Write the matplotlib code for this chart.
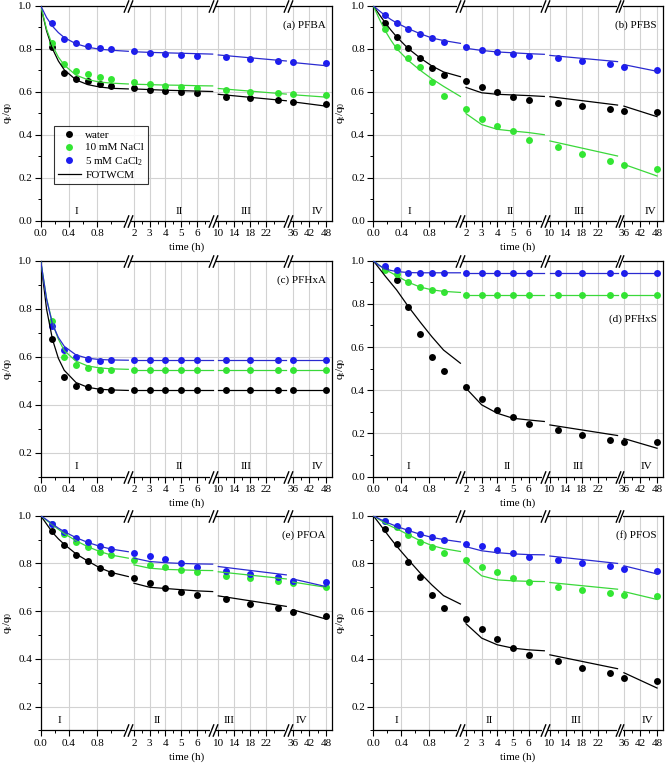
import numpy as np
import matplotlib
matplotlib.use("Agg")
import matplotlib.pyplot as plt
from matplotlib.ticker import FixedLocator
from matplotlib.transforms import ScaledTranslation

plt.rcParams['font.family'] = ['Liberation Serif', 'DejaVu Serif']
plt.rcParams['mathtext.fontset'] = 'custom'
plt.rcParams['mathtext.rm'] = 'Liberation Serif'
plt.rcParams['mathtext.it'] = 'Liberation Serif:italic'
plt.rcParams['font.size'] = 8

# sampling times of the measured points (h)
T_DATA = [1/6, 2/6, 3/6, 4/6, 5/6, 1, 2, 3, 4, 5, 6, 12, 18, 25, 36, 48]
# times of the model curve, one list per axis segment (I, II, III, IV)
T_FIT = [[0, 1/12, 1/6, 0.25, 1/3, 0.5, 2/3, 5/6, 1.0, 1.24],
         [2, 3, 4, 5, 6, 7],
         [10, 27],
         [36, 48]]

# (a) PFBA
A_WATER = [0.809, 0.688, 0.657, 0.650, 0.634, 0.626, 0.617, 0.609, 0.603, 0.597, 0.592, 0.577, 0.569, 0.561, 0.553, 0.541]
A_NACL = [0.825, 0.727, 0.696, 0.682, 0.667, 0.657, 0.643, 0.634, 0.625, 0.622, 0.619, 0.608, 0.600, 0.594, 0.589, 0.583]
A_CACL2 = [0.918, 0.845, 0.825, 0.812, 0.803, 0.798, 0.789, 0.780, 0.775, 0.771, 0.766, 0.760, 0.752, 0.744, 0.738, 0.732]
A_WATER_FIT = [1.0, 0.883, 0.800, 0.743, 0.702, 0.655, 0.633, 0.622, 0.616, 0.613,
               0.613, 0.610, 0.607, 0.605, 0.603, 0.601, 0.588, 0.558, 0.553, 0.533]
A_NACL_FIT = [1.0, 0.891, 0.815, 0.761, 0.724, 0.677, 0.656, 0.645, 0.640, 0.636,
              0.635, 0.633, 0.631, 0.630, 0.628, 0.627, 0.615, 0.589, 0.586, 0.575]
A_CACL2_FIT = [1.0, 0.945, 0.905, 0.875, 0.852, 0.823, 0.807, 0.798, 0.793, 0.788,
               0.786, 0.783, 0.781, 0.779, 0.777, 0.775, 0.771, 0.743, 0.736, 0.721]

# (b) PFBS
B_WATER = [0.921, 0.853, 0.802, 0.755, 0.712, 0.678, 0.651, 0.622, 0.598, 0.574, 0.561, 0.546, 0.533, 0.519, 0.510, 0.504]
B_NACL = [0.890, 0.808, 0.755, 0.713, 0.643, 0.580, 0.519, 0.473, 0.439, 0.416, 0.377, 0.343, 0.309, 0.276, 0.257, 0.240]
B_CACL2 = [0.957, 0.919, 0.893, 0.868, 0.850, 0.831, 0.808, 0.792, 0.783, 0.775, 0.766, 0.755, 0.743, 0.727, 0.716, 0.702]
B_WATER_FIT = [1.0, 0.960, 0.922, 0.887, 0.855, 0.800, 0.757, 0.720, 0.692, 0.670,
               0.620, 0.595, 0.588, 0.585, 0.582, 0.578, 0.577, 0.538, 0.533, 0.484]
B_NACL_FIT = [1.0, 0.940, 0.885, 0.840, 0.800, 0.745, 0.700, 0.660, 0.625, 0.578,
              0.498, 0.447, 0.425, 0.417, 0.410, 0.400, 0.371, 0.301, 0.262, 0.208]
B_CACL2_FIT = [1.0, 0.977, 0.955, 0.936, 0.920, 0.893, 0.870, 0.850, 0.838, 0.825,
               0.802, 0.792, 0.785, 0.781, 0.777, 0.774, 0.769, 0.740, 0.726, 0.695]

# (c) PFHxA
C_WATER = [0.672, 0.515, 0.478, 0.475, 0.459, 0.459, 0.459, 0.459, 0.459, 0.459, 0.459, 0.459, 0.459, 0.459, 0.459, 0.459]
C_NACL = [0.748, 0.600, 0.567, 0.553, 0.543, 0.546, 0.546, 0.546, 0.546, 0.546, 0.546, 0.546, 0.546, 0.546, 0.546, 0.546]
C_CACL2 = [0.729, 0.627, 0.600, 0.589, 0.583, 0.585, 0.585, 0.585, 0.585, 0.585, 0.585, 0.585, 0.585, 0.585, 0.585, 0.585]
C_WATER_FIT = [1.0, 0.798, 0.672, 0.593, 0.543, 0.492, 0.472, 0.464, 0.461, 0.459,
               0.459, 0.459, 0.459, 0.459, 0.459, 0.459, 0.459, 0.459, 0.459, 0.459]
C_NACL_FIT = [1.0, 0.843, 0.740, 0.673, 0.625, 0.581, 0.561, 0.553, 0.549, 0.547,
              0.546, 0.546, 0.546, 0.546, 0.546, 0.546, 0.546, 0.546, 0.546, 0.546]
C_CACL2_FIT = [1.0, 0.839, 0.735, 0.680, 0.643, 0.607, 0.593, 0.588, 0.586, 0.585,
               0.585, 0.585, 0.585, 0.585, 0.585, 0.585, 0.585, 0.585, 0.585, 0.585]

# (d) PFHxS
D_WATER = [0.960, 0.910, 0.787, 0.659, 0.556, 0.489, 0.417, 0.361, 0.310, 0.278, 0.242, 0.216, 0.191, 0.171, 0.160, 0.160]
D_NACL = [0.957, 0.937, 0.900, 0.877, 0.863, 0.853, 0.841, 0.841, 0.841, 0.841, 0.841, 0.841, 0.841, 0.841, 0.841, 0.841]
D_CACL2 = [0.977, 0.957, 0.941, 0.944, 0.944, 0.944, 0.944, 0.944, 0.944, 0.944, 0.944, 0.944, 0.944, 0.944, 0.944, 0.944]
D_WATER_FIT = [1.0, 0.965, 0.930, 0.897, 0.864, 0.787, 0.716, 0.648, 0.586, 0.525,
               0.409, 0.332, 0.293, 0.270, 0.262, 0.255, 0.239, 0.190, 0.176, 0.131]
D_NACL_FIT = [1.0, 0.980, 0.960, 0.945, 0.930, 0.900, 0.878, 0.865, 0.858, 0.853,
              0.841, 0.841, 0.841, 0.841, 0.841, 0.841, 0.841, 0.841, 0.841, 0.841]
D_CACL2_FIT = [1.0, 0.978, 0.962, 0.955, 0.950, 0.945, 0.944, 0.944, 0.944, 0.944,
               0.944, 0.944, 0.944, 0.944, 0.944, 0.944, 0.944, 0.944, 0.944, 0.944]

# (e) PFOA
E_WATER = [0.936, 0.876, 0.836, 0.810, 0.780, 0.759, 0.738, 0.720, 0.699, 0.682, 0.666, 0.649, 0.631, 0.614, 0.597, 0.580]
E_NACL = [0.965, 0.925, 0.890, 0.869, 0.849, 0.834, 0.813, 0.795, 0.784, 0.773, 0.763, 0.749, 0.737, 0.727, 0.717, 0.700]
E_CACL2 = [0.964, 0.933, 0.908, 0.888, 0.873, 0.859, 0.845, 0.831, 0.817, 0.801, 0.785, 0.770, 0.756, 0.742, 0.727, 0.721]
E_WATER_FIT = [1.0, 0.965, 0.930, 0.903, 0.880, 0.840, 0.810, 0.782, 0.762, 0.745,
               0.717, 0.700, 0.695, 0.690, 0.685, 0.682, 0.664, 0.620, 0.606, 0.567]
E_NACL_FIT = [1.0, 0.980, 0.962, 0.943, 0.925, 0.895, 0.870, 0.850, 0.835, 0.822,
              0.794, 0.780, 0.775, 0.773, 0.771, 0.770, 0.765, 0.735, 0.722, 0.700]
E_CACL2_FIT = [1.0, 0.983, 0.965, 0.948, 0.933, 0.908, 0.888, 0.872, 0.860, 0.849,
               0.822, 0.808, 0.803, 0.800, 0.798, 0.797, 0.787, 0.752, 0.735, 0.703]

# (f) PFOS
F_WATER = [0.944, 0.880, 0.805, 0.744, 0.666, 0.615, 0.568, 0.526, 0.484, 0.447, 0.416, 0.390, 0.363, 0.339, 0.318, 0.306]
F_NACL = [0.978, 0.954, 0.921, 0.891, 0.868, 0.845, 0.813, 0.787, 0.764, 0.741, 0.723, 0.703, 0.689, 0.675, 0.668, 0.663]
F_CACL2 = [0.979, 0.957, 0.939, 0.922, 0.909, 0.897, 0.883, 0.872, 0.856, 0.843, 0.827, 0.815, 0.803, 0.789, 0.777, 0.767]
F_WATER_FIT = [1.0, 0.968, 0.935, 0.903, 0.872, 0.815, 0.760, 0.710, 0.665, 0.630,
               0.547, 0.487, 0.459, 0.445, 0.438, 0.434, 0.417, 0.359, 0.342, 0.278]
F_NACL_FIT = [1.0, 0.984, 0.968, 0.956, 0.945, 0.920, 0.895, 0.875, 0.862, 0.850,
              0.803, 0.748, 0.731, 0.727, 0.725, 0.724, 0.720, 0.692, 0.682, 0.649]
F_CACL2_FIT = [1.0, 0.987, 0.975, 0.965, 0.955, 0.938, 0.922, 0.909, 0.900, 0.890,
               0.870, 0.853, 0.845, 0.840, 0.837, 0.836, 0.831, 0.800, 0.790, 0.756]

SERIES_LABELS = ['water', '10 mM NaCl', r'5 mM CaCl$_\mathrm{2}$']
MARKER_COLORS = ['#000000', '#33e633', '#1c1cf0']
LINE_COLORS = ['#000000', '#3ad83a', '#2a2ad0']

# broken time axis: data breakpoints and their relative positions
T_BRK = [0, 1.24, 1.64, 7.04, 8.75, 27.5, 34.4, 50.05]
U_BRK = [0, 87.6, 87.61, 172.6, 172.61, 247.6, 247.61, 291.0]
T_BREAK = [1.24, 7.04, 27.5]
X_MAJOR = [0, 0.4, 0.8, 2, 3, 4, 5, 6, 10, 14, 18, 22, 36, 42, 48]
X_LABELS = ['0.0', '0.4', '0.8', '2', '3', '4', '5', '6', '10', '14', '18', '22', '36', '42', '48']
X_MINOR = [0.2, 0.6, 1.0, 2.5, 3.5, 4.5, 5.5, 6.5, 12, 16, 20, 24, 39, 45]


def fwd(t):
    return np.interp(t, T_BRK, U_BRK)


def inv(u):
    return np.interp(u, U_BRK, T_BRK)


panels = [
    ('(a) PFBA', (A_WATER, A_NACL, A_CACL2), (A_WATER_FIT, A_NACL_FIT, A_CACL2_FIT), (0, 1), 0.91, [0.5, 4.9, 17, 45]),
    ('(b) PFBS', (B_WATER, B_NACL, B_CACL2), (B_WATER_FIT, B_NACL_FIT, B_CACL2_FIT), (0, 1), 0.91, [0.52, 4.8, 17.4, 45.5]),
    ('(c) PFHxA', (C_WATER, C_NACL, C_CACL2), (C_WATER_FIT, C_NACL_FIT, C_CACL2_FIT), (0.1, 1), 0.91, [0.5, 4.9, 17, 45]),
    ('(d) PFHxS', (D_WATER, D_NACL, D_CACL2), (D_WATER_FIT, D_NACL_FIT, D_CACL2_FIT), (0, 1), 0.73, [0.5, 4.6, 17.1, 44.3]),
    ('(e) PFOA', (E_WATER, E_NACL, E_CACL2), (E_WATER_FIT, E_NACL_FIT, E_CACL2_FIT), (0.1, 1), 0.91, [0.26, 3.5, 12.6, 39.2]),
    ('(f) PFOS', (F_WATER, F_NACL, F_CACL2), (F_WATER_FIT, F_NACL_FIT, F_CACL2_FIT), (0.1, 1), 0.91, [0.33, 3.5, 16.5, 44.5]),
]

# axes rectangles in figure fractions (left, bottom, width, height)
lefts = [0.0611, 0.5605]
widths = [0.4369, 0.4345]
bottoms = [0.7115, 0.3771, 0.0451]
heights = [0.2810, 0.2821, 0.2808]

fig = plt.figure(figsize=(6.66, 7.65), dpi=100)

for i, (title, data, fits, ylim, ty, region_x) in enumerate(panels):
    r, c = divmod(i, 2)
    ax = fig.add_axes([lefts[c], bottoms[r], widths[c], heights[r]])
    ax.set_xscale('function', functions=(fwd, inv))
    ax.set_xlim(0, 50.05)
    ax.set_ylim(*ylim)
    ax.set_axisbelow(True)

    seg_len = [len(s) for s in T_FIT]
    cuts = np.cumsum(seg_len)[:-1]
    handles = []
    for k in range(3):
        h, = ax.plot(T_DATA, data[k], 'o', ms=5, color=MARKER_COLORS[k], mec='none',
                     label=SERIES_LABELS[k], zorder=3)
        handles.append(h)
        for ts, ys in zip(T_FIT, np.split(np.array(fits[k]), cuts)):
            ln, = ax.plot(ts, ys, '-', color=LINE_COLORS[k], lw=0.9, zorder=4)
        if k == 0:
            fit_handle = ln

    ax.xaxis.set_major_locator(FixedLocator(X_MAJOR))
    ax.set_xticklabels(X_LABELS)
    ax.xaxis.set_minor_locator(FixedLocator(X_MINOR))
    yt = [v for v in np.arange(0, 1.01, 0.2) if v >= ylim[0] - 1e-9]
    ax.set_yticks(yt)
    ax.set_yticklabels(['%.1f' % v for v in yt])
    ax.yaxis.set_minor_locator(FixedLocator(np.arange(0, 1.01, 0.1)))
    ax.tick_params(which='major', direction='out', length=4, width=0.8, labelsize=8, pad=2)
    ax.tick_params(which='minor', direction='out', length=2, width=0.7)
    ax.grid(True, which='major', color='#d2d2d2', lw=0.8)
    for s in ax.spines.values():
        s.set_linewidth(0.9)

    ax.set_xlabel('time (h)', fontsize=8, labelpad=3)
    ax.set_ylabel(r'q$_\mathrm{t}$/q$_\mathrm{0}$', fontsize=8, labelpad=3)
    ax.text(0.98, ty, title, transform=ax.transAxes, ha='right', va='center', fontsize=8)
    for x, lab in zip(region_x, ['I', 'II', 'III', 'IV']):
        ax.text(x, 0.045, lab, transform=ax.get_xaxis_transform(), ha='center', va='center', fontsize=8)

    # break marks on the top and bottom spines
    for tb in T_BREAK:
        for y in (0, 1):
            ax.plot([tb], [y], transform=ax.get_xaxis_transform(), marker='_', ms=4, mew=3,
                    color='white', clip_on=False, zorder=5)
            for dx in (-1.4, 1.4):
                tr = ax.get_xaxis_transform() + ScaledTranslation(dx / 72, 0, fig.dpi_scale_trans)
                ax.plot([tb], [y], transform=tr, marker=[(-1, -2.5), (1, 2.5)], ms=9, mew=1.0,
                        color='k', ls='none', clip_on=False, zorder=6)

    if i == 0:
        leg = ax.legend(handles + [fit_handle], SERIES_LABELS + ['FOTWCM'], loc='lower left',
                        bbox_to_anchor=(0.045, 0.17), fontsize=8, frameon=True, fancybox=False,
                        edgecolor='k', handlelength=2.1, borderpad=0.35, labelspacing=0.25,
                        handletextpad=0.4, borderaxespad=0)
        leg.get_frame().set_linewidth(0.8)
        fit_handle.set_label('FOTWCM')

fig.savefig('out.png', dpi=100)
